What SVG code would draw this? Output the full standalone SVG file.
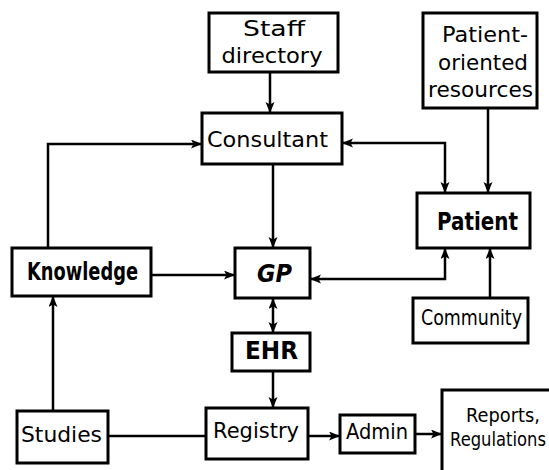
<svg xmlns="http://www.w3.org/2000/svg" width="549" height="470" viewBox="0 0 549 470">
<style>
.box{fill:#fff;stroke:#000;stroke-width:3}
.c{fill:none;stroke:#000;stroke-width:2.5}
text{font-family:"DejaVu Sans","Liberation Sans",sans-serif;font-size:22px;fill:#000}
.b{font-weight:bold;font-size:25px}
.s{font-size:20px}
</style>
<defs>
<marker id="ah" markerUnits="userSpaceOnUse" markerWidth="11" markerHeight="10" refX="10" refY="4.5" orient="auto-start-reverse">
<path d="M0,0 L11,4.5 L0,9 L2.5,4.5 z" fill="#000"/>
</marker>
</defs>
<rect width="549" height="470" fill="#fff"/>
<g id="connectors">
<path class="c" d="M270,72 V112" marker-end="url(#ah)"/>
<path class="c" d="M488,108 V192" marker-end="url(#ah)"/>
<path class="c" d="M343,143 H445 V192" marker-start="url(#ah)" marker-end="url(#ah)"/>
<path class="c" d="M48,248 V144 H201" marker-end="url(#ah)"/>
<path class="c" d="M273,164 V247" marker-end="url(#ah)"/>
<path class="c" d="M151,275 H234" marker-end="url(#ah)"/>
<path class="c" d="M311,279 H445 V249" marker-start="url(#ah)" marker-end="url(#ah)"/>
<path class="c" d="M490,298 V249" marker-end="url(#ah)"/>
<path class="c" d="M273,299 V332" marker-start="url(#ah)" marker-end="url(#ah)"/>
<path class="c" d="M273,371 V407" marker-end="url(#ah)"/>
<path class="c" d="M53,411 V297" marker-end="url(#ah)"/>
<path class="c" d="M108,436 H206"/>
<path class="c" d="M308,436 H339" marker-end="url(#ah)"/>
<path class="c" d="M415,434 H441" marker-end="url(#ah)"/>
</g>
<g id="staff">
<rect class="box" x="209" y="13" width="129" height="59"/>
<text x="274" y="36" text-anchor="middle" textLength="62" lengthAdjust="spacingAndGlyphs">Staff</text>
<text x="272" y="63" text-anchor="middle" textLength="101" lengthAdjust="spacingAndGlyphs">directory</text>
</g>
<g id="consultant">
<rect class="box" x="202" y="113" width="140" height="51"/>
<text x="207" y="147" textLength="121" lengthAdjust="spacingAndGlyphs">Consultant</text>
</g>
<g id="resources">
<rect class="box" x="423" y="13" width="114" height="95"/>
<text x="442" y="42" textLength="86" lengthAdjust="spacingAndGlyphs">Patient-</text>
<text x="438" y="70" textLength="90" lengthAdjust="spacingAndGlyphs">oriented</text>
<text x="428" y="97" textLength="105" lengthAdjust="spacingAndGlyphs">resources</text>
</g>
<g id="patient">
<rect class="box" x="417" y="193" width="113" height="55"/>
<text class="b" x="437" y="230" textLength="81" lengthAdjust="spacingAndGlyphs">Patient</text>
</g>
<g id="knowledge">
<rect class="box" x="12" y="248" width="139" height="48"/>
<text class="b" x="27" y="280" textLength="111" lengthAdjust="spacingAndGlyphs">Knowledge</text>
</g>
<g id="gp">
<rect class="box" x="235" y="248" width="75" height="50"/>
<text class="b" x="257" y="282" font-style="italic" font-size="28" textLength="35" lengthAdjust="spacingAndGlyphs">GP</text>
</g>
<g id="community">
<rect class="box" x="413" y="298" width="115" height="45"/>
<text x="421" y="325" textLength="101" lengthAdjust="spacingAndGlyphs">Community</text>
</g>
<g id="ehr">
<rect class="box" x="232" y="333" width="78" height="38"/>
<text class="b" x="245" y="359" font-size="23" textLength="53" lengthAdjust="spacingAndGlyphs">EHR</text>
</g>
<g id="registry">
<rect class="box" x="206" y="408" width="102" height="51"/>
<text x="213" y="438" textLength="86" lengthAdjust="spacingAndGlyphs">Registry</text>
</g>
<g id="studies">
<rect class="box" x="17" y="411" width="91" height="52"/>
<text x="21" y="442" textLength="81" lengthAdjust="spacingAndGlyphs">Studies</text>
</g>
<g id="admin">
<rect class="box" x="340" y="415" width="75" height="38"/>
<text x="346" y="439" textLength="62" lengthAdjust="spacingAndGlyphs">Admin</text>
</g>
<g id="reports">
<rect class="box" x="442" y="390" width="130" height="100"/>
<text class="s" x="503" y="422" text-anchor="middle" textLength="74" lengthAdjust="spacingAndGlyphs">Reports,</text>
<text class="s" x="450" y="446" textLength="96" lengthAdjust="spacingAndGlyphs">Regulations</text>
</g>
</svg>
